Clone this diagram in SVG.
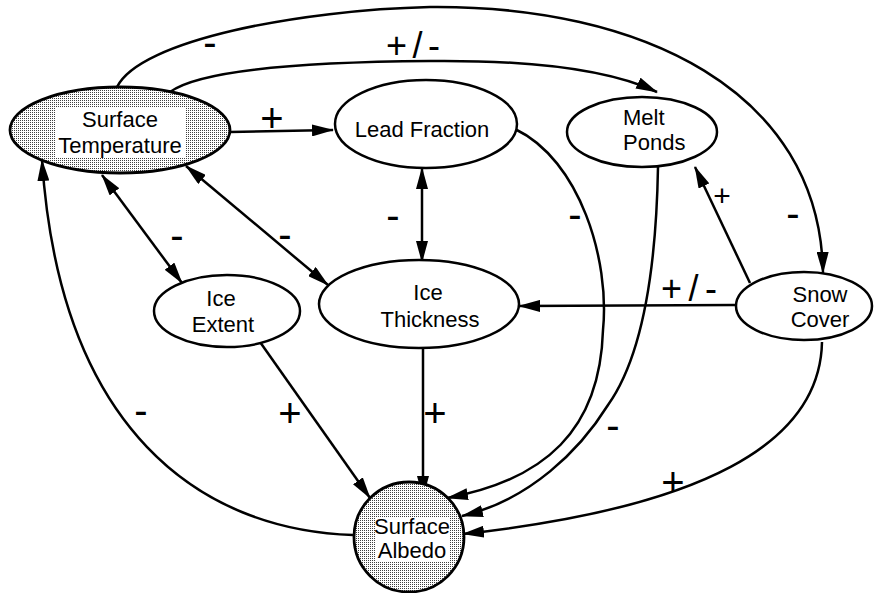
<svg xmlns="http://www.w3.org/2000/svg" width="874" height="593" viewBox="0 0 874 593">
<defs>
<pattern id="stip" width="2" height="2" patternUnits="userSpaceOnUse">
<rect width="2" height="2" fill="#ffffff"/>
<rect width="1" height="1" fill="#404040"/>
</pattern>
<marker id="ah" markerUnits="userSpaceOnUse" viewBox="0 0 22 12" markerWidth="22" markerHeight="12" refX="21" refY="6" orient="auto-start-reverse">
<path d="M0,0 L22,6 L0,12 z" fill="#000"/>
</marker>
<style>
.node{fill:#fff;stroke:#000;stroke-width:2.5}
.shade{fill:url(#stip);stroke:#000;stroke-width:2.8}
.lbl{font-family:"Liberation Sans",Arial,sans-serif;font-size:22px;fill:#000;text-anchor:middle}
.sign{font-family:"Liberation Sans",Arial,sans-serif;font-size:40px;fill:#000;text-anchor:middle}
.edge{fill:none;stroke:#000;stroke-width:2.5}
.e1{marker-end:url(#ah)}
.e2{marker-start:url(#ah);marker-end:url(#ah)}
</style>
</defs>
<rect width="874" height="593" fill="#fff"/>
<g id="connectors">
<path class="edge e1" d="M117 87 C140 40 300 10 430 7 C640 5 820 90 823 273"/>
<path class="edge e1" d="M170 92 C200 70 300 62 430 61 C530 60 610 70 657 92"/>
<path class="edge e1" d="M230 132 L333 130"/>
<path class="edge e2" d="M102 175 L182 283"/>
<path class="edge e2" d="M186 166 L328 285"/>
<path class="edge e2" d="M422 168 L422 262"/>
<path class="edge e1" d="M515 129 C580 160 610 260 603 330 C600 430 545 480 447 498"/>
<path class="edge e1" d="M658 167 C656 280 640 360 608 405 C580 450 530 500 462 516"/>
<path class="edge e1" d="M750 283 L695 167"/>
<path class="edge e1" d="M735 305 L519 306"/>
<path class="edge e1" d="M822 342 C820 445 700 508 463 534"/>
<path class="edge e1" d="M260 342 L370 498"/>
<path class="edge e1" d="M423 348 L423 497"/>
<path class="edge e1" d="M353 535 C200 530 60 430 42 160"/>
<text class="sign" x="210" y="55.5">-</text>
<text class="sign" x="413" y="57.7" style="font-size:36px" textLength="54" lengthAdjust="spacing">+/-</text>
<text class="sign" x="272" y="132">+</text>
<text class="sign" x="177" y="248.5">-</text>
<text class="sign" x="285" y="247.5">-</text>
<text class="sign" x="393" y="228.5">-</text>
<text class="sign" x="575" y="227.5">-</text>
<text class="sign" x="722" y="205.6" style="font-size:30px">+</text>
<text class="sign" x="793" y="226.5">-</text>
<text class="sign" x="689" y="300.7" style="font-size:36px" textLength="56" lengthAdjust="spacing">+/-</text>
<text class="sign" x="673" y="496">+</text>
<text class="sign" x="613" y="438.5">-</text>
<text class="sign" x="290" y="427">+</text>
<text class="sign" x="435" y="427">+</text>
<text class="sign" x="141" y="423.5">-</text>
</g>
<g id="surface-temperature">
<ellipse class="shade" cx="120" cy="130" rx="110" ry="43"/>
<rect x="55" y="108" width="130" height="50" fill="#fff"/>
<text class="lbl" x="120" y="127">Surface</text>
<text class="lbl" x="120" y="153">Temperature</text>
</g>
<g id="lead-fraction">
<ellipse class="node" cx="426" cy="124" rx="91" ry="44"/>
<text class="lbl" x="422" y="137">Lead Fraction</text>
</g>
<g id="melt-ponds">
<ellipse class="node" cx="642" cy="132" rx="75" ry="35"/>
<text class="lbl" x="623" y="125" style="text-anchor:start">Melt</text>
<text class="lbl" x="623" y="150" style="text-anchor:start">Ponds</text>
</g>
<g id="ice-extent">
<ellipse class="node" cx="227" cy="311" rx="73" ry="36"/>
<text class="lbl" x="221" y="306">Ice</text>
<text class="lbl" x="223" y="332">Extent</text>
</g>
<g id="ice-thickness">
<ellipse class="node" cx="419" cy="304" rx="100" ry="44"/>
<text class="lbl" x="428" y="300">Ice</text>
<text class="lbl" x="430" y="327">Thickness</text>
</g>
<g id="snow-cover">
<ellipse class="node" cx="804" cy="306" rx="68" ry="34"/>
<text class="lbl" x="820" y="302">Snow</text>
<text class="lbl" x="820" y="327">Cover</text>
</g>
<g id="surface-albedo">
<circle class="shade" cx="409" cy="537" r="55"/>
<rect x="375" y="517" width="75" height="45" fill="#fff"/>
<text class="lbl" x="412" y="534">Surface</text>
<text class="lbl" x="412" y="558">Albedo</text>
</g>
</svg>
